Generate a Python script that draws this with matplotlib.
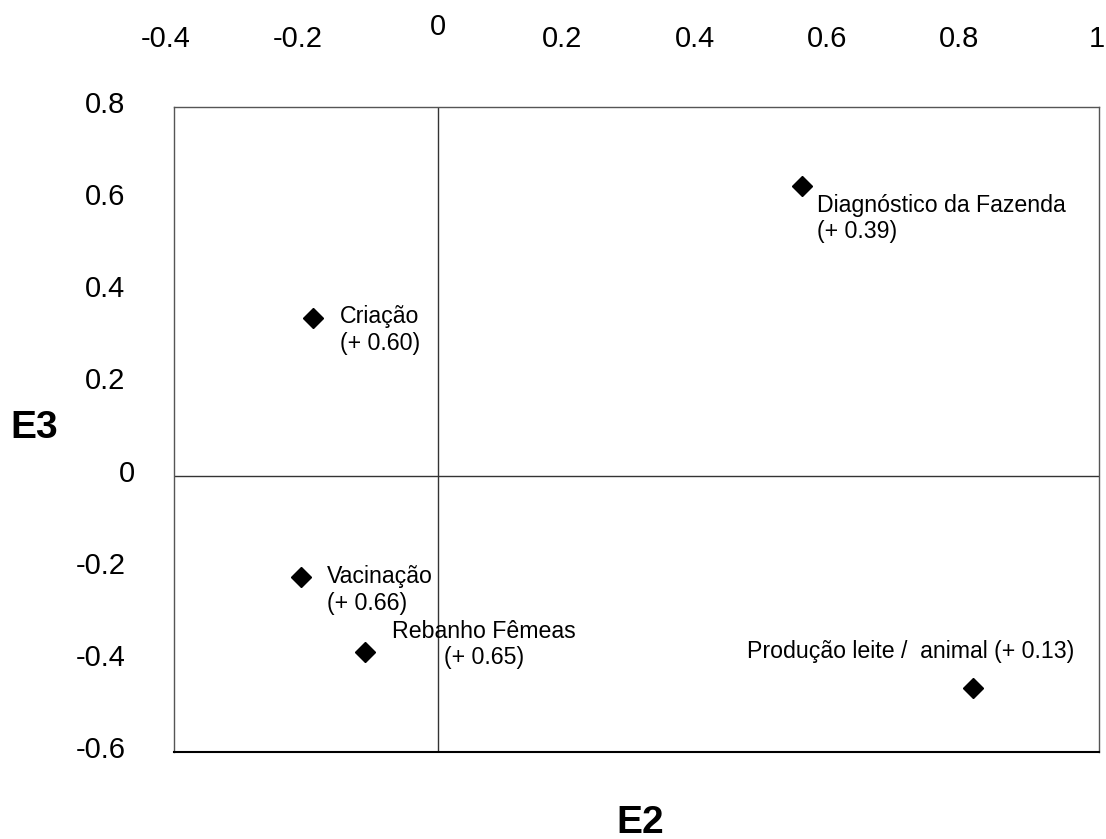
import numpy as np
import matplotlib
matplotlib.use('Agg')
import matplotlib.pyplot as plt
from matplotlib.transforms import ScaledTranslation

plt.rcParams['font.family'] = ['Liberation Sans', 'DejaVu Sans']

# loadings on E2 / E3
names = ['Diagnóstico da Fazenda\n(+ 0.39)', 'Criação\n(+ 0.60)', 'Vacinação\n(+ 0.66)',
         'Rebanho Fêmeas\n(+ 0.65)', 'Produção leite /  animal (+ 0.13)']
e2 = [0.550, -0.190, -0.208, -0.111, 0.809]
e3 = [0.629, 0.342, -0.220, -0.382, -0.460]

xticks = [-0.4, -0.2, 0, 0.2, 0.4, 0.6, 0.8, 1]
xtick_labels = ['-0.4', '-0.2', '0', '0.2', '0.4', '0.6', '0.8', '1']
yticks = [-0.6, -0.4, -0.2, 0, 0.2, 0.4, 0.6, 0.8]
ytick_labels = ['-0.6', '-0.4', '-0.2', '0', '0.2', '0.4', '0.6', '0.8']

# label offsets in pixels and alignment
offsets = [(15, -8), (27, 13), (26, 12), (119, 32), (-226, 36)]
aligns = [('left', 'top'), ('left', 'top'), ('left', 'top'), ('center', 'top'), ('left', 'center')]

fig = plt.figure(figsize=(11.06, 8.39), dpi=100)
ax = fig.add_axes([174/1106, 1-752/839, 925/1106, 645/839])

ax.plot(e2, e3, linestyle='none', marker='D', markersize=10.5, color='black')
for n, x, y, (dx, dy), (ha, va) in zip(names, e2, e3, offsets, aligns):
    ax.annotate(n, (x, y), xytext=(dx, dy), textcoords='offset pixels',
                ha=ha, va=va, multialignment=ha, fontsize=16.7, linespacing=1.2)

ax.axhline(0, color='#333333', lw=1)
ax.axvline(0, color='#333333', lw=1)

ax.set_xlim(-0.4, 1.0)
ax.set_ylim(-0.6, 0.8)
ax.xaxis.tick_top()
ax.set_xticks(xticks, xtick_labels)
ax.set_yticks(yticks, ytick_labels)
ax.tick_params(axis='x', length=0, pad=39, labelsize=21)
ax.tick_params(axis='y', length=0, pad=35, labelsize=21)

for s in ['top', 'left', 'right']:
    ax.spines[s].set_color('#555555')
    ax.spines[s].set_linewidth(1)
ax.spines['bottom'].set_color('black')
ax.spines['bottom'].set_linewidth(1.5)

# nudge tick labels to where the original draws them
for lab, txt in zip(ax.get_xticklabels(), xtick_labels):
    if txt == '0':
        dx, dy = 0, 12
    elif txt == '1':
        dx, dy = -2, 0
    else:
        dx, dy = -8, 0
    lab.set_transform(lab.get_transform() + ScaledTranslation(dx/100, dy/100, fig.dpi_scale_trans))
for lab, txt in zip(ax.get_yticklabels(), ytick_labels):
    dx = 10 if txt == '0' else 0
    lab.set_transform(lab.get_transform() + ScaledTranslation(dx/100, 5/100, fig.dpi_scale_trans))

fig.text(58/1106, 1-428/839, 'E3', ha='right', va='center', fontsize=28, fontweight='bold')
fig.text(640/1106, 1-823/839, 'E2', ha='center', va='center', fontsize=28, fontweight='bold')

fig.savefig('out.png', dpi=100)
